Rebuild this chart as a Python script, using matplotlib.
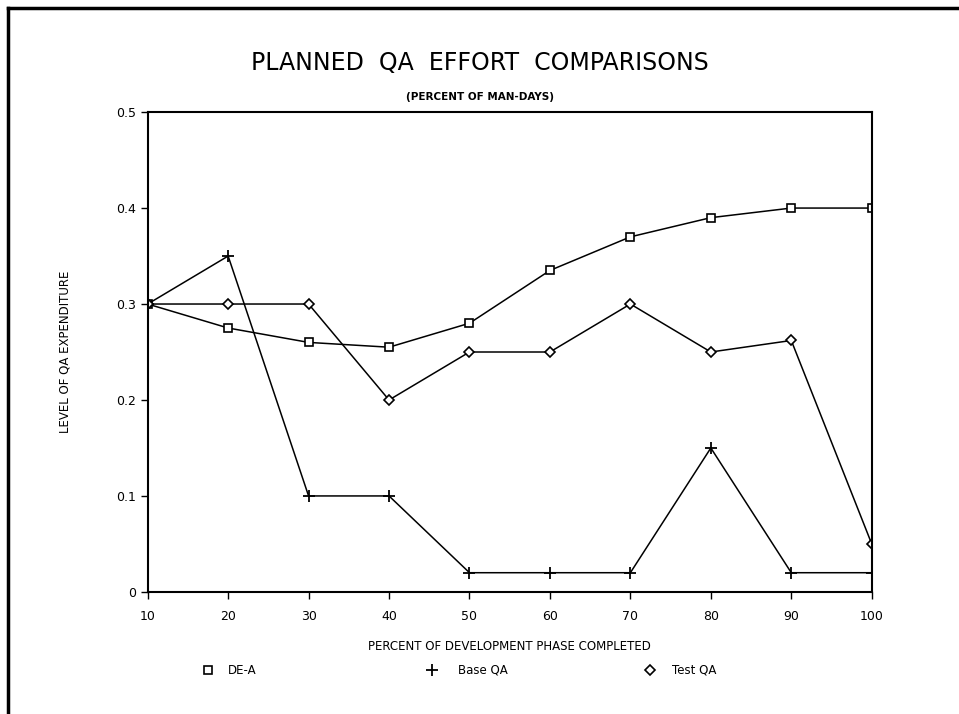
import matplotlib.pyplot as plt
from matplotlib.lines import Line2D

pct_done = [10, 20, 30, 40, 50, 60, 70, 80, 90, 100]
de_a = [0.30, 0.275, 0.26, 0.255, 0.28, 0.335, 0.37, 0.39, 0.40, 0.40]
base_qa = [0.30, 0.35, 0.10, 0.10, 0.02, 0.02, 0.02, 0.15, 0.02, 0.02]
test_qa = [0.30, 0.30, 0.30, 0.20, 0.25, 0.25, 0.30, 0.25, 0.262, 0.05]

series_names = ["DE-A", "Base QA", "Test QA"]
y_ticks = [0, 0.1, 0.2, 0.3, 0.4, 0.5]
y_tick_labels = ["0", "0.1", "0.2", "0.3", "0.4", "0.5"]

W, H = 959, 714
fig = plt.figure(figsize=(W / 100, H / 100), dpi=100)
ax = fig.add_axes([0.154, 0.171, 0.755, 0.672])

styles = [
    dict(marker="s", ms=6, mfc="white", mec="black", mew=1.2),
    dict(marker="+", ms=9, mec="black", mew=1.3),
    dict(marker="D", ms=5, mfc="white", mec="black", mew=1.2),
]

for vals, st in zip([de_a, base_qa, test_qa], styles):
    ax.plot(pct_done, vals, color="black", lw=1.1, **st)

ax.set_xlim(10, 100)
ax.set_ylim(0, 0.5)
ax.set_xticks(pct_done)
ax.set_yticks(y_ticks)
ax.set_yticklabels(y_tick_labels)
ax.tick_params(direction="out", length=5, width=1, labelsize=9, colors="black")
ax.tick_params(axis="x", pad=8)
for s in ax.spines.values():
    s.set_linewidth(1.5)

ax.set_xlabel("PERCENT OF DEVELOPMENT PHASE COMPLETED", fontsize=8.5, labelpad=12)
ax.set_ylabel("LEVEL OF QA EXPENDITURE", fontsize=8.5, labelpad=32)

fig.text(0.5, 0.912, "PLANNED  QA  EFFORT  COMPARISONS", ha="center",
         va="center", fontsize=17)
fig.text(0.5, 0.864, "(PERCENT OF MAN-DAYS)", ha="center", va="center",
         fontsize=7.5, fontweight="bold")

# legend row under the x label
leg_marker_x = [208, 432, 650]
leg_text_x = [228, 458, 672]
leg_y = 1 - 670 / H
for name, st, mx, tx in zip(series_names, styles, leg_marker_x, leg_text_x):
    fig.add_artist(Line2D([mx / W], [leg_y], transform=fig.transFigure,
                          ls="none", **st))
    fig.text(tx / W, leg_y, name, ha="left", va="center", fontsize=8.5)

# page edge: top and left only
edge_x = 8 / W
edge_y = 1 - 8 / H
fig.add_artist(Line2D([edge_x, 1], [edge_y, edge_y], transform=fig.transFigure,
                      color="black", lw=2.5))
fig.add_artist(Line2D([edge_x, edge_x], [0, edge_y], transform=fig.transFigure,
                      color="black", lw=2.5))

fig.savefig("out.png", dpi=100, facecolor="white")
